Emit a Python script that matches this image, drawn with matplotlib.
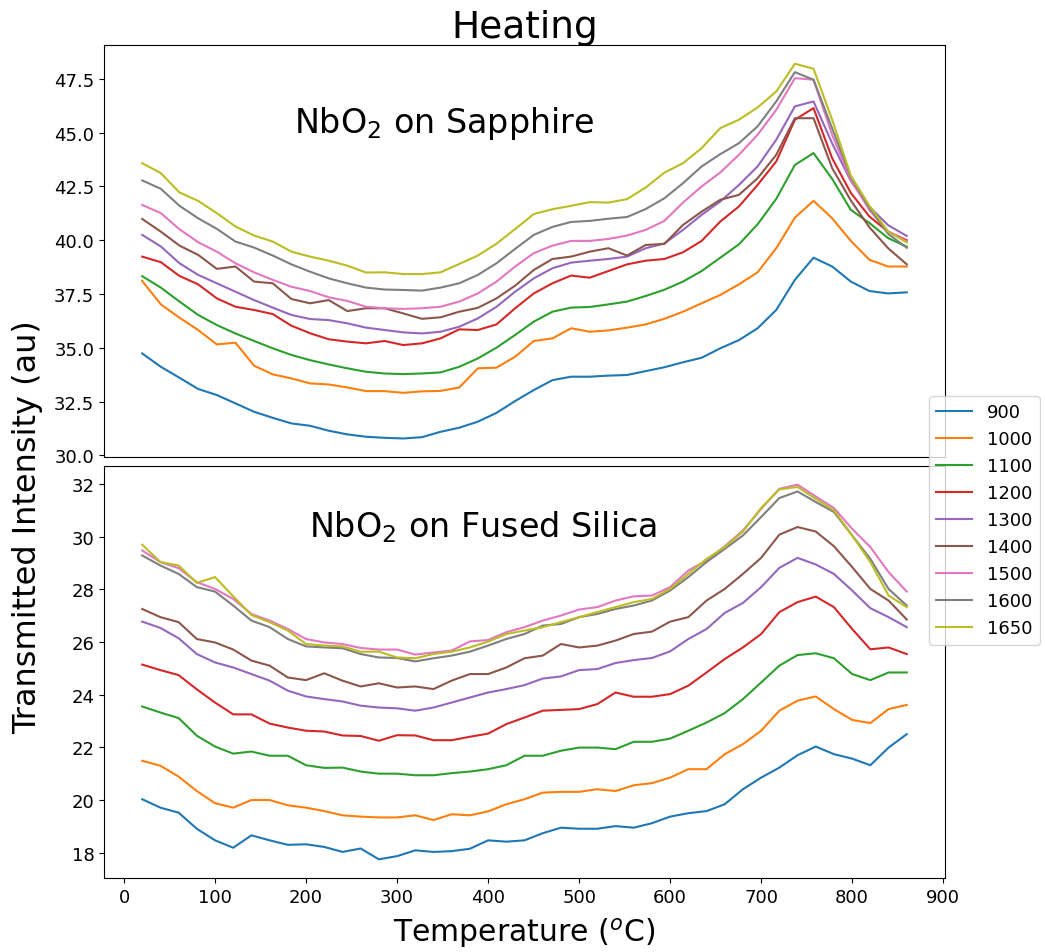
import numpy as np
import matplotlib

matplotlib.use("Agg")

import matplotlib.pyplot as plt
from matplotlib.ticker import MultipleLocator


# sapphire run was logged on a 42-point ramp, fused silica on 20 C steps
temp_sapphire = np.linspace(20, 860, 42)
temp_silica = np.arange(20, 861, 20)

labels = ["900", "1000", "1100", "1200", "1300", "1400", "1500", "1600", "1650"]

sapphire_900 = [34.74, 34.12, 33.61, 33.09, 32.81, 32.42, 32.03, 31.75, 31.49, 31.38, 31.15, 30.98, 30.87, 30.82,
                30.79, 30.85, 31.10, 31.29, 31.57, 31.98, 32.53, 33.04, 33.50, 33.66, 33.66, 33.71, 33.74, 33.92,
                34.10, 34.33, 34.54, 34.98, 35.36, 35.91, 36.76, 38.16, 39.19, 38.78, 38.08, 37.64, 37.53, 37.58]
sapphire_1000 = [38.11, 37.02, 36.40, 35.83, 35.16, 35.24, 34.17, 33.77, 33.58, 33.35, 33.30, 33.16, 32.99, 32.99,
                 32.91, 32.98, 33.00, 33.16, 34.05, 34.08, 34.59, 35.32, 35.44, 35.91, 35.75, 35.81, 35.94, 36.09,
                 36.35, 36.68, 37.07, 37.46, 37.95, 38.51, 39.63, 41.05, 41.83, 41.02, 39.97, 39.09, 38.78, 38.78]
sapphire_1100 = [38.33, 37.80, 37.15, 36.53, 36.06, 35.67, 35.32, 34.98, 34.67, 34.43, 34.23, 34.05, 33.89, 33.81,
                 33.78, 33.81, 33.86, 34.12, 34.51, 35.01, 35.60, 36.22, 36.68, 36.87, 36.90, 37.02, 37.15, 37.41,
                 37.70, 38.08, 38.57, 39.19, 39.81, 40.74, 41.92, 43.50, 44.05, 42.85, 41.41, 40.80, 40.10, 39.70]
sapphire_1200 = [39.24, 38.98, 38.34, 37.95, 37.30, 36.91, 36.76, 36.57, 36.03, 35.68, 35.40, 35.29, 35.21, 35.32,
                 35.13, 35.21, 35.44, 35.86, 35.83, 36.09, 36.84, 37.53, 38.00, 38.36, 38.26, 38.57, 38.88, 39.05,
                 39.13, 39.44, 39.97, 40.87, 41.57, 42.57, 43.66, 45.60, 46.14, 43.81, 42.20, 41.10, 40.40, 40.00]
sapphire_1300 = [40.25, 39.71, 38.93, 38.39, 38.00, 37.61, 37.22, 36.87, 36.53, 36.34, 36.29, 36.14, 35.94, 35.83,
                 35.72, 35.67, 35.75, 35.98, 36.37, 36.91, 37.61, 38.23, 38.70, 38.96, 39.05, 39.13, 39.24, 39.63,
                 39.85, 40.48, 41.18, 41.80, 42.57, 43.43, 44.67, 46.22, 46.45, 44.50, 42.75, 41.55, 40.70, 40.20]
sapphire_1400 = [40.99, 40.40, 39.75, 39.32, 38.67, 38.78, 38.08, 38.00, 37.27, 37.07, 37.22, 36.71, 36.84, 36.84,
                 36.60, 36.35, 36.42, 36.68, 36.86, 37.30, 37.89, 38.62, 39.13, 39.24, 39.47, 39.63, 39.29, 39.78,
                 39.83, 40.71, 41.33, 41.88, 42.11, 42.88, 43.97, 45.67, 45.67, 43.35, 41.85, 40.60, 39.63, 38.88]
sapphire_1500 = [41.64, 41.26, 40.51, 39.91, 39.47, 38.93, 38.51, 38.16, 37.84, 37.64, 37.35, 37.18, 36.91, 36.84,
                 36.81, 36.84, 36.91, 37.15, 37.53, 38.08, 38.78, 39.40, 39.75, 39.97, 39.97, 40.06, 40.22, 40.48,
                 40.90, 41.75, 42.50, 43.15, 43.97, 44.90, 46.06, 47.53, 47.46, 44.90, 42.80, 41.40, 40.40, 39.95]
sapphire_1600 = [42.78, 42.39, 41.60, 41.02, 40.53, 39.94, 39.66, 39.29, 38.88, 38.54, 38.23, 38.00, 37.80, 37.71,
                 37.69, 37.66, 37.80, 38.00, 38.39, 38.93, 39.60, 40.25, 40.62, 40.85, 40.90, 41.00, 41.08, 41.45,
                 41.95, 42.65, 43.43, 44.00, 44.51, 45.29, 46.45, 47.81, 47.46, 45.20, 42.95, 41.50, 40.30, 39.65]
sapphire_1650 = [43.58, 43.12, 42.22, 41.83, 41.26, 40.64, 40.22, 39.94, 39.47, 39.24, 39.05, 38.82, 38.50, 38.51,
                 38.43, 38.43, 38.51, 38.90, 39.29, 39.84, 40.52, 41.22, 41.44, 41.60, 41.77, 41.75, 41.91, 42.45,
                 43.14, 43.58, 44.28, 45.21, 45.60, 46.17, 46.91, 48.20, 47.97, 45.60, 43.00, 41.60, 40.40, 39.90]

silica_900 = [20.03, 19.71, 19.52, 18.91, 18.47, 18.19, 18.66, 18.47, 18.30, 18.32, 18.22, 18.03, 18.16, 17.75,
              17.87, 18.09, 18.03, 18.06, 18.15, 18.47, 18.42, 18.47, 18.74, 18.95, 18.91, 18.91, 19.01, 18.95,
              19.12, 19.37, 19.50, 19.58, 19.84, 20.41, 20.85, 21.23, 21.70, 22.03, 21.74, 21.57, 21.32, 21.99, 22.50]
silica_1000 = [21.49, 21.30, 20.89, 20.34, 19.88, 19.71, 20.00, 20.00, 19.80, 19.71, 19.58, 19.42, 19.37, 19.34,
               19.34, 19.42, 19.24, 19.46, 19.42, 19.57, 19.84, 20.03, 20.28, 20.31, 20.31, 20.41, 20.34, 20.56,
               20.64, 20.85, 21.17, 21.17, 21.74, 22.12, 22.63, 23.39, 23.77, 23.93, 23.45, 23.04, 22.92, 23.45, 23.61]
silica_1100 = [23.55, 23.32, 23.11, 22.44, 22.03, 21.76, 21.84, 21.68, 21.68, 21.32, 21.22, 21.23, 21.08, 21.00,
               21.00, 20.94, 20.94, 21.02, 21.08, 21.17, 21.32, 21.68, 21.68, 21.87, 21.99, 21.99, 21.93, 22.21,
               22.21, 22.33, 22.63, 22.94, 23.30, 23.83, 24.46, 25.10, 25.50, 25.57, 25.38, 24.78, 24.55, 24.84, 24.84]
silica_1200 = [25.14, 24.93, 24.74, 24.20, 23.70, 23.25, 23.25, 22.90, 22.75, 22.63, 22.60, 22.45, 22.43, 22.25,
               22.46, 22.45, 22.27, 22.27, 22.40, 22.52, 22.88, 23.13, 23.39, 23.42, 23.45, 23.64, 24.08, 23.92,
               23.92, 24.02, 24.34, 24.84, 25.35, 25.79, 26.30, 27.13, 27.51, 27.72, 27.32, 26.49, 25.72, 25.79, 25.54]
silica_1300 = [26.77, 26.53, 26.14, 25.54, 25.22, 25.03, 24.78, 24.53, 24.15, 23.93, 23.83, 23.74, 23.58, 23.51,
               23.48, 23.39, 23.51, 23.70, 23.89, 24.08, 24.21, 24.36, 24.61, 24.69, 24.93, 24.97, 25.20, 25.31,
               25.39, 25.64, 26.11, 26.49, 27.10, 27.48, 28.08, 28.81, 29.19, 28.94, 28.58, 27.95, 27.28, 26.94, 26.56]
silica_1400 = [27.25, 26.94, 26.75, 26.11, 25.98, 25.71, 25.29, 25.10, 24.65, 24.55, 24.81, 24.53, 24.31, 24.43,
               24.27, 24.31, 24.21, 24.53, 24.78, 24.78, 25.03, 25.38, 25.48, 25.92, 25.79, 25.86, 26.05, 26.30,
               26.39, 26.77, 26.94, 27.57, 28.01, 28.58, 29.19, 30.07, 30.36, 30.19, 29.63, 28.84, 28.01, 27.57, 26.85]
silica_1500 = [29.47, 29.03, 28.80, 28.27, 28.01, 27.63, 27.06, 26.81, 26.49, 26.11, 25.98, 25.92, 25.77, 25.71,
               25.71, 25.52, 25.60, 25.67, 26.02, 26.07, 26.37, 26.56, 26.81, 27.00, 27.23, 27.32, 27.57, 27.73,
               27.76, 28.08, 28.71, 29.09, 29.63, 30.23, 31.05, 31.81, 31.97, 31.52, 31.08, 30.29, 29.60, 28.65, 27.91]
silica_1600 = [29.28, 28.90, 28.58, 28.08, 27.91, 27.38, 26.81, 26.56, 26.11, 25.83, 25.79, 25.76, 25.54, 25.41,
               25.39, 25.26, 25.38, 25.48, 25.63, 25.86, 26.11, 26.30, 26.62, 26.68, 26.94, 27.06, 27.25, 27.38,
               27.57, 27.95, 28.46, 29.03, 29.53, 30.04, 30.74, 31.46, 31.71, 31.31, 30.93, 30.04, 29.15, 28.01, 27.38]
silica_1650 = [29.69, 29.03, 28.90, 28.24, 28.46, 27.73, 27.02, 26.75, 26.43, 25.92, 25.86, 25.83, 25.63, 25.63,
               25.41, 25.38, 25.54, 25.63, 25.79, 26.01, 26.30, 26.43, 26.56, 26.75, 26.94, 27.13, 27.32, 27.51,
               27.63, 28.01, 28.58, 29.15, 29.60, 30.19, 31.08, 31.79, 31.88, 31.43, 30.99, 30.04, 29.03, 27.76, 27.32]

sapphire = [sapphire_900, sapphire_1000, sapphire_1100, sapphire_1200, sapphire_1300,
            sapphire_1400, sapphire_1500, sapphire_1600, sapphire_1650]
silica = [silica_900, silica_1000, silica_1100, silica_1200, silica_1300,
          silica_1400, silica_1500, silica_1600, silica_1650]


def main():
    fig, (ax1, ax2) = plt.subplots(2, 1, sharex=True, figsize=(10.45, 9.53), dpi=100)
    fig.subplots_adjust(left=0.0995, right=0.9043, bottom=0.0776, top=0.9517, hspace=0.021)

    for values, label in zip(sapphire, labels):
        ax1.plot(temp_sapphire, values, label=label)
    for values in silica:
        ax2.plot(temp_silica, values)

    ax1.set_title("Heating", fontsize=27)
    ax1.text(352, 45.45, "NbO$_2$ on Sapphire", fontsize=24, ha="center", va="center")
    ax2.text(394, 30.4, "NbO$_2$ on Fused Silica", fontsize=24, ha="center", va="center")

    ax2.xaxis.set_major_locator(MultipleLocator(100))
    ax1.tick_params(axis="x", bottom=False)
    ax1.tick_params(labelsize=13)
    ax2.tick_params(labelsize=13)

    ax2.set_xlabel("Temperature ($^o$C)", fontsize=21.5, labelpad=7)
    fig.text(0.026, 0.447, "Transmitted Intensity (au)", rotation=90,
             fontsize=23, ha="center", va="center")

    fig.legend(loc="center left", bbox_to_anchor=(0.889, 0.453), borderaxespad=0,
               fontsize=13)

    fig.savefig("out.png", dpi=100)
    plt.close(fig)


if __name__ == "__main__":
    main()
